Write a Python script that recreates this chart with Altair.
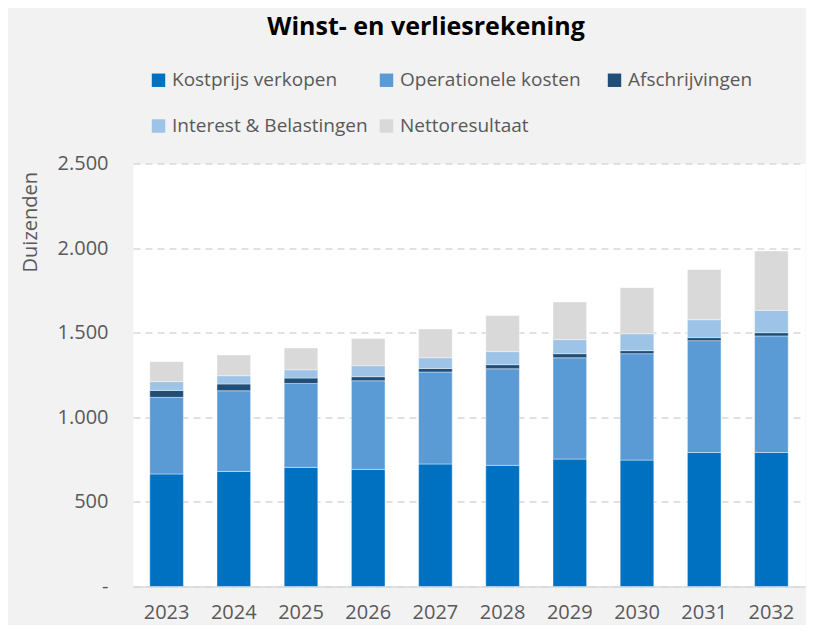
import altair as alt
import pandas as pd

years = ["2023", "2024", "2025", "2026", "2027", "2028", "2029", "2030", "2031", "2032"]
series = ["Kostprijs verkopen", "Operationele kosten", "Afschrijvingen",
          "Interest & Belastingen", "Nettoresultaat"]
colors = ["#0070c0", "#5b9bd5", "#1f4e79", "#9dc3e6", "#d9d9d9"]

kostprijs = [665, 680, 704, 692, 724, 716, 753, 747, 792, 792]
opex = [453, 477, 496, 524, 544, 571, 599, 629, 661, 689]
afschr = [41, 40, 32, 24, 21, 24, 24, 18, 18, 19]
interest = [52, 49, 49, 65, 63, 77, 83, 100, 106, 132]
netto = [118, 122, 129, 160, 170, 213, 223, 272, 296, 351]

y_ticks = [0, 500, 1000, 1500, 2000, 2500]

values = [kostprijs, opex, afschr, interest, netto]
rows = []
for si, (name, vals) in enumerate(zip(series, values)):
    for yr, v in zip(years, vals):
        rows.append({"year": yr, "series": name, "value": v, "idx": si})
df = pd.DataFrame(rows)

FONT = "Open Sans"
GREY = "#595959"

chart = alt.Chart(df).mark_bar(
    stroke="white", strokeWidth=0.8, strokeOpacity=0.5
).encode(
    x=alt.X(
        "year:N",
        title=None,
        scale=alt.Scale(paddingInner=0.5, paddingOuter=0.25),
        axis=alt.Axis(
            labelAngle=0, labelFontSize=20, labelColor=GREY, labelFont=FONT,
            ticks=False, domainColor="#d9d9d9", domainWidth=1.5,
            labelPadding=16, grid=False,
        ),
    ),
    y=alt.Y(
        "value:Q",
        stack="zero",
        title="Duizenden",
        scale=alt.Scale(domain=[0, 2500], nice=False),
        axis=alt.Axis(
            values=y_ticks,
            labelExpr="datum.value == 0 ? '-\u00a0' : replace(format(datum.value, ','), ',', '.')",
            labelFontSize=20, labelColor=GREY, labelFont=FONT, labelPadding=25,
            ticks=False, domain=False, grid=True, gridDash=[7, 5],
            gridColor="#d9d9d9", gridWidth=1.5,
            titleFontSize=20, titleColor=GREY, titleFont=FONT,
            titleFontWeight="normal", titleX=-97, titleY=8,
            titleAlign="right", titleAngle=270, titleBaseline="alphabetic",
        ),
    ),
    color=alt.Color(
        "series:N",
        scale=alt.Scale(domain=series, range=colors),
        legend=alt.Legend(
            title=None, orient="none", legendX=16, legendY=-93,
            direction="horizontal", columns=3, gridAlign="all",
            columnPadding=9, rowPadding=26, symbolType="square",
            symbolSize=180, symbolStrokeWidth=0, labelFontSize=19,
            labelColor=GREY, labelFont=FONT, labelLimit=400, padding=0,
            labelOffset=4,
        ),
    ),
    order=alt.Order("idx:Q"),
).properties(
    width=672,
    height=423,
    autosize=alt.AutoSizeParams(type="none"),
    padding={"left": 125, "top": 155.5, "right": 1, "bottom": 38.5},
    background="#f2f2f2",
    title=alt.TitleParams(
        text="Winst- en verliesrekening", font=FONT, fontSize=25,
        fontWeight="bold", color="black", anchor="middle", frame="group",
        dx=-43, dy=-27,
    ),
).configure_view(fill="white", stroke="transparent")

chart.save("out.html", embed_options={"renderer": "svg", "actions": False})
